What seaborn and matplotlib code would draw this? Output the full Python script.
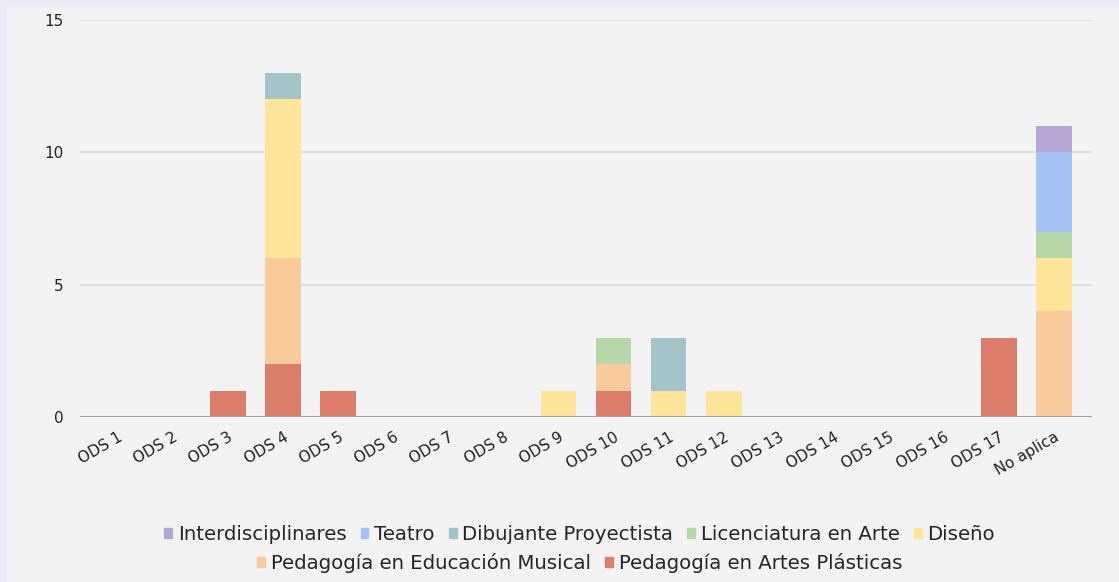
import numpy as np
import pandas as pd
import matplotlib
matplotlib.use("Agg")
import matplotlib.pyplot as plt
import matplotlib.patches as mpatches
import seaborn as sns

categorias = ["ODS 1", "ODS 2", "ODS 3", "ODS 4", "ODS 5", "ODS 6", "ODS 7", "ODS 8",
              "ODS 9", "ODS 10", "ODS 11", "ODS 12", "ODS 13", "ODS 14", "ODS 15",
              "ODS 16", "ODS 17", "No aplica"]

# series, stacked bottom -> top
artes_plasticas = [0, 0, 1, 2, 1, 0, 0, 0, 0, 1, 0, 0, 0, 0, 0, 0, 3, 0]
educacion_musical = [0, 0, 0, 4, 0, 0, 0, 0, 0, 1, 0, 0, 0, 0, 0, 0, 0, 4]
diseno = [0, 0, 0, 6, 0, 0, 0, 0, 1, 0, 1, 1, 0, 0, 0, 0, 0, 2]
licenciatura = [0, 0, 0, 0, 0, 0, 0, 0, 0, 1, 0, 0, 0, 0, 0, 0, 0, 1]
dibujante = [0, 0, 0, 1, 0, 0, 0, 0, 0, 0, 2, 0, 0, 0, 0, 0, 0, 0]
teatro = [0, 0, 0, 0, 0, 0, 0, 0, 0, 0, 0, 0, 0, 0, 0, 0, 0, 3]
interdisciplinares = [0, 0, 0, 0, 0, 0, 0, 0, 0, 0, 0, 0, 0, 0, 0, 0, 0, 1]

series = [
    ("Pedagogía en Artes Plásticas", artes_plasticas, "#dd7e6b"),
    ("Pedagogía en Educación Musical", educacion_musical, "#f9cb9c"),
    ("Diseño", diseno, "#ffe599"),
    ("Licenciatura en Arte", licenciatura, "#b6d7a8"),
    ("Dibujante Proyectista", dibujante, "#a2c4c9"),
    ("Teatro", teatro, "#a4c2f4"),
    ("Interdisciplinares", interdisciplinares, "#b4a7d6"),
]

sns.set_style("white")
plt.rcParams['font.family'] = ['DejaVu Sans']

fig = plt.figure(figsize=(11.19, 5.82), dpi=100)
fig.patch.set_facecolor("#ecebf7")
# inner panel
fig.patches.append(mpatches.Rectangle((7 / 1119, 0), 1 - 7 / 1119, 1 - 7 / 582,
                                      transform=fig.transFigure, facecolor="#f3f3f3",
                                      edgecolor="none", zorder=-5))

ax = fig.add_axes([80 / 1119, 1 - 417 / 582, 1012 / 1119, 397 / 582])
ax.set_zorder(2)
ax.set_facecolor("#f3f3f3")

bottom = np.zeros(len(categorias))
for nombre, vals, col in series:
    df = pd.DataFrame({"cat": categorias, "val": vals})
    sns.barplot(data=df, x="cat", y="val", bottom=bottom, color=col, width=0.65,
                saturation=1, ax=ax, edgecolor="none", zorder=3)
    bottom = bottom + np.array(vals)

ax.set_ylim(0, 15)
ax.set_xlim(-0.69, len(categorias) - 1 + 0.69)
ax.set_yticks([0, 5, 10, 15])
ax.yaxis.grid(True, color="#dcdcdc", linewidth=1.2, zorder=0)
ax.set_axisbelow(True)
ax.axhline(0, color="#a0a0a0", linewidth=1.5, zorder=4)
for s in ax.spines.values():
    s.set_visible(False)
ax.set_xlabel("")
ax.set_ylabel("")
ax.tick_params(axis="y", length=0, labelsize=11, colors="#222222", pad=12)
ax.tick_params(axis="x", length=0, labelsize=11, colors="#222222", pad=9)
plt.setp(ax.get_xticklabels(), rotation=30, ha="right", rotation_mode="anchor")

h = {n: mpatches.Patch(color=c) for n, _, c in series}
row1 = ["Interdisciplinares", "Teatro", "Dibujante Proyectista", "Licenciatura en Arte", "Diseño"]
row2 = ["Pedagogía en Educación Musical", "Pedagogía en Artes Plásticas"]
kw = dict(frameon=False, fontsize=14.2, handlelength=0.4, handleheight=0.4,
          handletextpad=0.3, columnspacing=0.7, borderaxespad=0)
leg1 = fig.legend([h[n] for n in row1], row1, ncol=5, loc="center",
                  bbox_to_anchor=(0.518, 1 - 535 / 582), **kw)
leg2 = fig.legend([h[n] for n in row2], row2, ncol=2, loc="center",
                  bbox_to_anchor=(0.518, 1 - 563 / 582), **kw)

fig.savefig("out.png", dpi=100, facecolor=fig.get_facecolor())
